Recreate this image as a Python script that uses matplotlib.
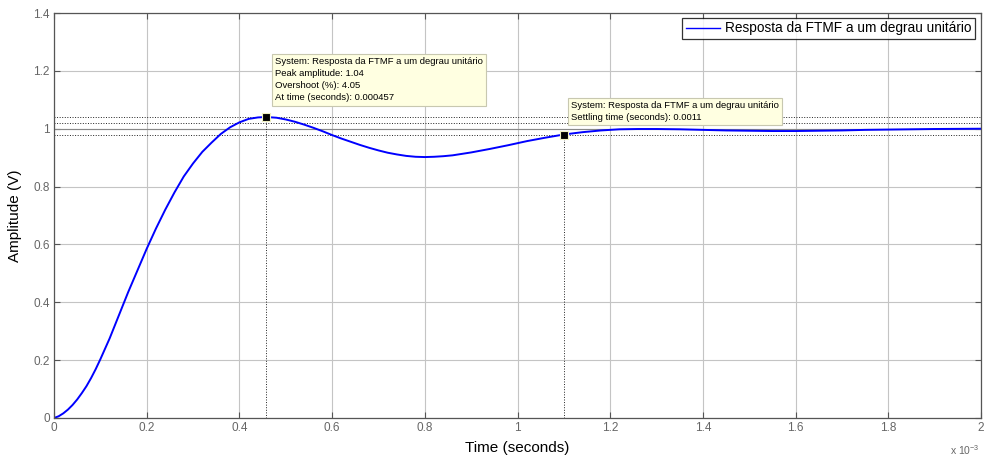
import matplotlib
matplotlib.use('Agg')
import matplotlib.pyplot as plt

plt.rcParams['font.family'] = ['Liberation Sans', 'DejaVu Sans']

# resposta ao degrau (tempo em ms)
time_ms = [0, 0.01, 0.02, 0.03, 0.04, 0.05, 0.06, 0.07, 0.08, 0.09, 0.1, 0.12, 0.14,
           0.16, 0.18, 0.2, 0.22, 0.24, 0.26, 0.28, 0.3, 0.32, 0.34, 0.36, 0.38, 0.4,
           0.42, 0.44, 0.457, 0.48, 0.5, 0.52, 0.54, 0.56, 0.58, 0.6, 0.62, 0.64, 0.66,
           0.68, 0.7, 0.72, 0.74, 0.76, 0.78, 0.8, 0.82, 0.84, 0.86, 0.88, 0.9, 0.94,
           0.98, 1.02, 1.06, 1.1, 1.14, 1.18, 1.22, 1.26, 1.3, 1.35, 1.4, 1.45, 1.5,
           1.55, 1.6, 1.65, 1.7, 1.75, 1.8, 1.85, 1.9, 2.0]
amplitude = [0, 0.006, 0.016, 0.029, 0.045, 0.064, 0.086, 0.11, 0.138, 0.169, 0.203,
             0.275, 0.355, 0.435, 0.51, 0.585, 0.655, 0.72, 0.78, 0.835, 0.88, 0.92,
             0.952, 0.982, 1.005, 1.022, 1.034, 1.039, 1.0405, 1.038, 1.032, 1.024,
             1.014, 1.003, 0.991, 0.978, 0.966, 0.955, 0.944, 0.934, 0.925, 0.917,
             0.911, 0.906, 0.903, 0.902, 0.903, 0.905, 0.908, 0.913, 0.918, 0.93, 0.943,
             0.957, 0.969, 0.98, 0.988, 0.994, 0.998, 0.999, 0.999, 0.998, 0.996, 0.994,
             0.993, 0.992, 0.992, 0.993, 0.994, 0.996, 0.997, 0.998, 0.999, 1.0]

peak_t, peak_y = 0.457, 1.0405
settle_t, settle_y = 1.1, 0.98
band = [1.02, 0.98]

W, H = 984, 459
fig = plt.figure(figsize=(W / 100, H / 100), dpi=100)
ax = fig.add_axes([54 / W, 1 - 418 / H, 927 / W, 405 / H])

def px(x, y):
    return x / W, 1 - y / H

ax.grid(True, color='#c4c4c4', lw=0.8, ls='-')
ax.set_axisbelow(True)

# linhas das caracteristicas
ax.axhline(peak_y, color='#222222', lw=0.7, ls=':')
for b in band:
    ax.axhline(b, color='#222222', lw=0.7, ls=':')
ax.axhline(1.0, color='#888888', lw=0.8)
ax.plot([peak_t, peak_t], [0, peak_y], color='#222222', lw=0.7, ls=':')
ax.plot([settle_t, settle_t], [0, settle_y], color='#222222', lw=0.7, ls=':')

ax.plot(time_ms, amplitude, color='#0000ff', lw=1.4,
        label='Resposta da FTMF a um degrau unitário')
ax.plot([peak_t, settle_t], [peak_y, settle_y], ls='none', marker='s', ms=6,
        mfc='black', mec='#f0f0c0', mew=0.8, zorder=5)

ax.set_xlim(0, 2)
ax.set_ylim(0, 1.4)
ax.set_xticks([0, 0.2, 0.4, 0.6, 0.8, 1, 1.2, 1.4, 1.6, 1.8, 2])
ax.set_xticklabels(['0', '0.2', '0.4', '0.6', '0.8', '1', '1.2', '1.4', '1.6', '1.8', '2'])
ax.set_yticks([0, 0.2, 0.4, 0.6, 0.8, 1, 1.2, 1.4])
ax.set_yticklabels(['0', '0.2', '0.4', '0.6', '0.8', '1', '1.2', '1.4'])
ax.tick_params(direction='in', top=True, right=True, length=4, width=0.8,
               color='#555555', labelcolor='#666666', labelsize=8.5, pad=3)
for s in ax.spines.values():
    s.set_color('#555555')
    s.set_linewidth(0.9)

ax.set_xlabel('Time (seconds)', fontsize=11, labelpad=5)
ax.set_ylabel('Amplitude (V)', fontsize=11, labelpad=8)
fig.text(*px(950, 455), r'x 10$^{\mathregular{-3}}$', fontsize=7.5, color='#666666',
         ha='left', va='baseline')

leg = ax.legend(loc='upper right', bbox_to_anchor=(975 / W, 1 - 18 / H),
                bbox_transform=fig.transFigure, fontsize=9.8, frameon=True,
                fancybox=False, handlelength=2.5, handletextpad=0.4,
                borderpad=0.25, borderaxespad=0)
leg.get_frame().set_edgecolor('black')
leg.get_frame().set_linewidth(0.9)
leg.get_lines()[0].set_linewidth(1.0)

tip = dict(boxstyle='square,pad=0.35', fc='#ffffe1', ec='#c8c8b0', lw=0.8)
fig.text(*px(275, 57),
         'System: Resposta da FTMF a um degrau unitário\nPeak amplitude: 1.04\n'
         'Overshoot (%): 4.05\nAt time (seconds): 0.000457',
         fontsize=6.8, va='top', ha='left', linespacing=1.45, bbox=tip, zorder=10)
fig.text(*px(571, 101),
         'System: Resposta da FTMF a um degrau unitário\nSettling time (seconds): 0.0011',
         fontsize=6.8, va='top', ha='left', linespacing=1.45, bbox=tip, zorder=10)

fig.savefig('out.png', dpi=100)
